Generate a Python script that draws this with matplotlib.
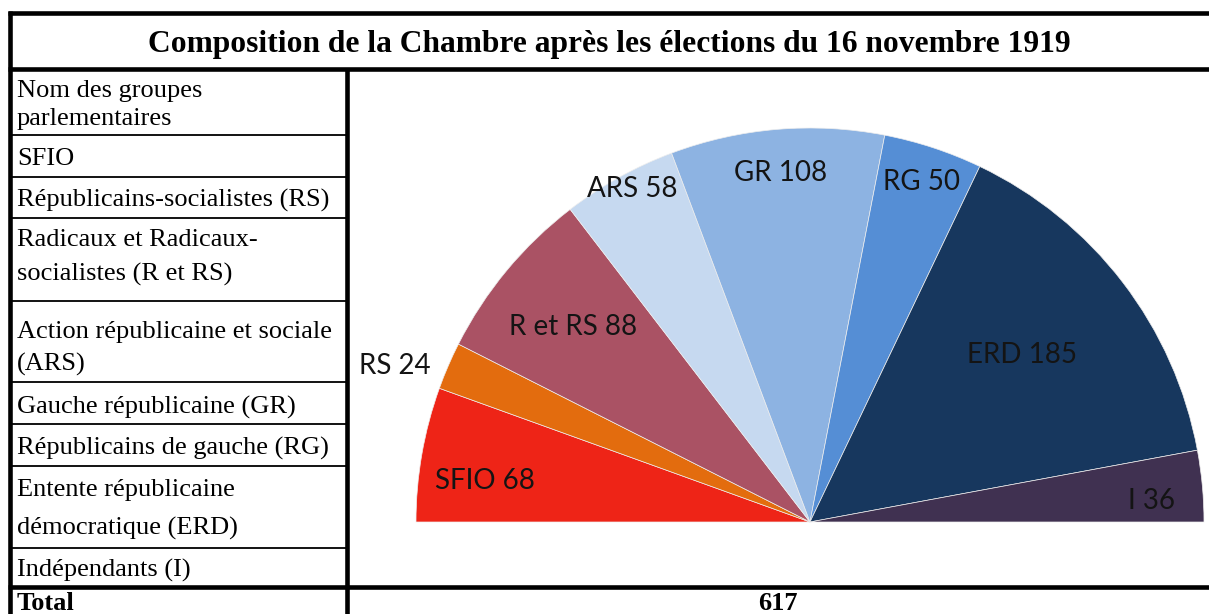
import numpy as np
import matplotlib
matplotlib.use("Agg")
import matplotlib.pyplot as plt

# ---------------- data ----------------
title = "Composition de la Chambre après les élections du 16 novembre 1919"
header_lines = ["Nom des groupes", "parlementaires"]
group_names = [
    ["SFIO"],
    ["Républicains-socialistes (RS)"],
    ["Radicaux et Radicaux-", "socialistes (R et RS)"],
    ["Action républicaine et sociale", "(ARS)"],
    ["Gauche républicaine (GR)"],
    ["Républicains de gauche (RG)"],
    ["Entente républicaine", "démocratique (ERD)"],
    ["Indépendants (I)"],
]
abbrev = ["SFIO", "RS", "R et RS", "ARS", "GR", "RG", "ERD", "I"]
seats = [68, 24, 88, 58, 108, 50, 185, 36]
total_label = "Total"
colors = ["#EE2417", "#E36C0E", "#AA5264", "#C6D9F0",
          "#8DB3E2", "#558ED5", "#17375E", "#403151"]

# ---------------- layout (pixels) ----------------
W, H = 1209, 614
fig = plt.figure(figsize=(W / 100, H / 100), dpi=100)
fig.patch.set_facecolor("white")
tab = fig.add_axes([0, 0, 1, 1])
tab.set_xlim(0, W)
tab.set_ylim(H, 0)
tab.axis("off")

thick = 3.3
thin = 1.3
col_x = 347
left_x = 10
# borders
tab.plot([8, W], [12.5, 12.5], color="black", lw=thick, solid_capstyle="butt")
tab.plot([8, W], [69, 69], color="black", lw=thick, solid_capstyle="butt")
tab.plot([8, W], [587, 587], color="black", lw=thick, solid_capstyle="butt")
tab.plot([left_x, left_x], [10.5, H], color="black", lw=thick, solid_capstyle="butt")
tab.plot([col_x, col_x], [69, H], color="black", lw=thick, solid_capstyle="butt")
row_lines = [135, 177, 218, 301, 382, 424, 466, 548]
for y in row_lines:
    tab.plot([left_x, col_x], [y, y], color="black", lw=thin, solid_capstyle="butt")

serif = "Liberation Serif"
# title
t = tab.text(609, 52, title, ha="center", va="baseline", fontsize=20,
             fontweight="bold", family=serif)

# left column text (baselines)
fs_left = 19
baselines = [[97, 125], [165], [207], [246, 281], [338, 371], [414], [455],
             [496, 535], [577]]
all_lines = [header_lines] + group_names
for lines, bls in zip(all_lines, baselines):
    for txt, yb in zip(lines, bls):
        tab.text(17, yb, txt, ha="left", va="baseline", fontsize=fs_left,
                 family=serif)
tab.text(17, 610, total_label, ha="left", va="baseline", fontsize=fs_left,
         fontweight="bold", family=serif)
tab.text((col_x + W) / 2, 610, str(sum(seats)), ha="center", va="baseline",
         fontsize=fs_left, fontweight="bold", family=serif)

# fit title width to ~922 px
fig.canvas.draw()
r = fig.canvas.get_renderer()
wpx = t.get_window_extent(r).width
t.set_fontsize(20 * 922 / wpx)

# ---------------- half pie ----------------
cx, cy, R = 810, 522, 394
pie_ax = fig.add_axes([(cx - R) / W, (H - cy - R) / H, 2 * R / W, 2 * R / H])
fracs = np.array(seats) / (2.0 * sum(seats))
pie_ax.pie(fracs, colors=colors, startangle=180, counterclock=False,
           normalize=False, radius=1,
           wedgeprops=dict(edgecolor="#eeeeee", linewidth=0.5))
pie_ax.set_aspect("auto")
pie_ax.set_xlim(-1, 1)
pie_ax.set_ylim(-1, 1)
pie_ax.axis("off")

# label positions in unit-circle coords
label_xy = [(-0.825, 0.105), (-1.053, 0.396), (-0.602, 0.495), (-0.45, 0.845),
            (-0.074, 0.886), (0.284, 0.863), (0.538, 0.424), (0.868, 0.053)]
for a, s, (lx, ly) in zip(abbrev, seats, label_xy):
    pie_ax.text(lx, ly, f"{a} {s}", ha="center", va="center", fontsize=20,
                family="Lato", color="#141414")

fig.savefig("out.png", dpi=100)
